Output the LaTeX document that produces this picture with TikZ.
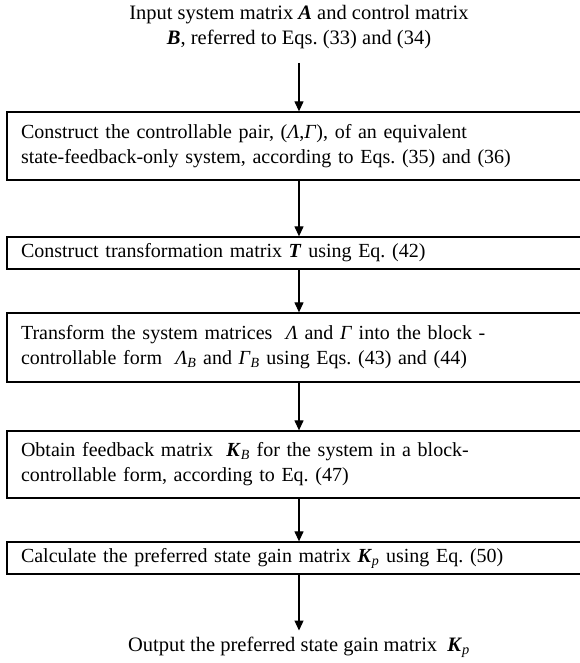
\documentclass[tikz,border=0pt]{standalone}
\usepackage{fontspec}
\setmainfont{Liberation Serif}
\usepackage{tikz}
\usetikzlibrary{arrows.meta,positioning}

\newcommand{\bmi}[1]{\textbf{\textit{#1}}}
\newcommand{\gr}[1]{\textit{#1}}
\frenchspacing

\begin{document}
\begin{tikzpicture}[
  x=1pt, y=-1pt,
  every node/.style={font=\fontsize{20.5}{25}\selectfont},
  box/.style={rectangle, draw, line width=1.3pt, text width=556pt, inner xsep=14pt, inner ysep=0pt, align=left, font=\fontsize{20}{25}\selectfont},
  arrow/.style={-{Triangle[length=10pt,width=9pt]}, line width=1.2pt},
]
\useasboundingbox (0,0) rectangle (579,663);

% Input text
\node[align=center, inner sep=0pt] (input) at (299,27) {
  Input system matrix \bmi{A} and control matrix\\
  \bmi{B}, referred to Eqs. (33) and (34)
};

% Steps
\node[box, minimum height=68pt] (pair) at (299,146) {
  Construct the controllable pair, (\gr{Λ},\gr{Γ}), of an equivalent\\
  state-feedback-only system, according to Eqs. (35) and (36)
};

\node[box, minimum height=32pt] (trans) at (299,253) {
  Construct transformation matrix \bmi{T} using Eq. (42)
};

\node[box, minimum height=69pt] (block) at (299,347.5) {
  Transform the system matrices \ \gr{Λ} and \gr{Γ} into the block -\\
  controllable form \ \gr{Λ}\textsubscript{\gr{B}} and \gr{Γ}\textsubscript{\gr{B}} using Eqs. (43) and (44)
};

\node[box, minimum height=67pt] (feed) at (299,464.5) {
  Obtain feedback matrix \ \bmi{K}\textsubscript{\gr{B}} for the system in a block-\\
  controllable form, according to Eq. (47)
};

\node[box, minimum height=32pt] (gain) at (299,558) {
  Calculate the preferred state gain matrix \bmi{K}\textsubscript{\gr{p}} using Eq. (50)
};

% Output text
\node[inner sep=0pt] (output) at (299,647) {
  Output the preferred state gain matrix \ \bmi{K}\textsubscript{\gr{p}}
};

% Arrows
\draw[arrow, shorten <=14pt] (input.south) -- (pair.north);
\draw[arrow] (pair.south) -- (trans.north);
\draw[arrow] (trans.south) -- (block.north);
\draw[arrow] (block.south) -- (feed.north);
\draw[arrow] (feed.south) -- (gain.north);
\draw[arrow, shorten >=6pt] (gain.south) -- (output.north);

\end{tikzpicture}
\end{document}
